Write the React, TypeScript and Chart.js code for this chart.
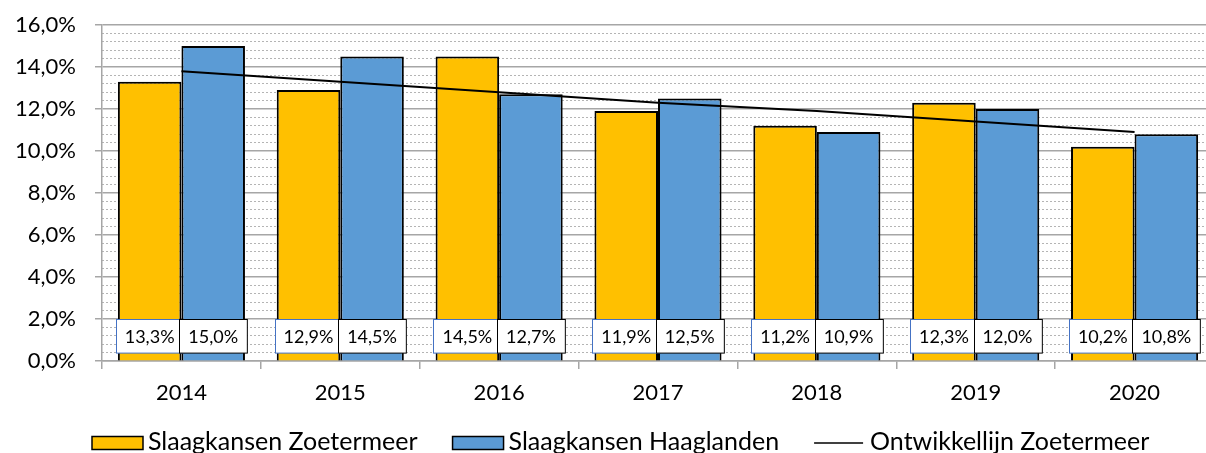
import React, { useEffect, useRef } from "react";
import { Chart, registerables } from "chart.js";

Chart.register(...registerables);

const categories = ["2014", "2015", "2016", "2017", "2018", "2019", "2020"];
const zoetermeer = [13.3, 12.9, 14.5, 11.9, 11.2, 12.3, 10.2];
const haaglanden = [15.0, 14.5, 12.7, 12.5, 10.9, 12.0, 10.8];
const trendZoetermeer = [13.8, 13.3, 12.8, 12.3, 11.9, 11.4, 10.9];
const seriesLabels = ["Slaagkansen Zoetermeer", "Slaagkansen Haaglanden", "Ontwikkellijn Zoetermeer"];

const FONT = "Lato";
const fmt = (v: number) => v.toFixed(1).replace(".", ",") + "%";

const labelBoxPlugin = {
  id: "labelBoxes",
  afterDatasetsDraw(chart: any) {
    const ctx = chart.ctx;
    const y = chart.scales.y;
    const top = y.getPixelForValue(2);
    const bottom = y.getPixelForValue(0.4);
    const borders = ["#4472C4", "#000000"];
    ctx.save();
    ctx.font = `18px ${FONT}`;
    ctx.textAlign = "center";
    ctx.textBaseline = "middle";
    const cats = chart.data.labels.length;
    for (let i = 0; i < cats; i++) {
      [0, 1].forEach((di) => {
        const meta = chart.getDatasetMeta(di);
        const el = meta.data[i];
        const v = chart.data.datasets[di].data[i];
        const text = fmt(v);
        const w = ctx.measureText(text).width + 18;
        const x0 = Math.round(el.x - w / 2) + 0.5;
        ctx.fillStyle = "#ffffff";
        ctx.fillRect(x0, Math.round(top) + 0.5, w, bottom - top);
        ctx.strokeStyle = borders[di];
        ctx.lineWidth = 1;
        ctx.strokeRect(x0, Math.round(top) + 0.5, w, bottom - top);
        ctx.fillStyle = "#000000";
        ctx.fillText(text, el.x, (top + bottom) / 2 + 1);
      });
    }
    ctx.restore();
  },
};

const legendPlugin = {
  id: "customLegend",
  afterDraw(chart: any) {
    const ctx = chart.ctx;
    const ds = chart.data.datasets;
    const order = [0, 1, 2];
    let x = 92;
    const yc = 443;
    ctx.save();
    ctx.font = `25px ${FONT}`;
    ctx.textBaseline = "middle";
    ctx.textAlign = "left";
    order.forEach((di) => {
      const d = ds[di];
      if (d.type === "line") {
        ctx.strokeStyle = "#000";
        ctx.lineWidth = 1.5;
        ctx.beginPath();
        ctx.moveTo(x, yc);
        ctx.lineTo(x + 49, yc);
        ctx.stroke();
      } else {
        ctx.fillStyle = d.backgroundColor;
        ctx.fillRect(x, yc - 6.5, 51, 13);
        ctx.strokeStyle = "#000";
        ctx.lineWidth = 1.5;
        ctx.strokeRect(x, yc - 6.5, 51, 13);
      }
      x += 56;
      ctx.fillStyle = "#000";
      ctx.fillText(d.label, x, yc - 1);
      x += ctx.measureText(d.label).width + 35;
    });
    ctx.restore();
  },
};

export default function App() {
  const ref = useRef<HTMLCanvasElement | null>(null);
  useEffect(() => {
    document.body.style.margin = "0";
    document.body.style.overflow = "hidden";
    let chart: any = null;
    let cancelled = false;
    const make = () => {
      if (cancelled || !ref.current) return;
      chart = new Chart(ref.current, {
        type: "bar",
        data: {
          labels: categories,
          datasets: [
            {
              type: "bar",
              label: seriesLabels[0],
              data: zoetermeer,
              backgroundColor: "#FFC000",
              borderColor: "#000000",
              borderWidth: 2,
              categoryPercentage: 0.8,
              barPercentage: 1.0,
              order: 1,
            },
            {
              type: "bar",
              label: seriesLabels[1],
              data: haaglanden,
              backgroundColor: "#5B9BD5",
              borderColor: "#000000",
              borderWidth: 2,
              categoryPercentage: 0.8,
              barPercentage: 1.0,
              order: 1,
            },
            {
              type: "line",
              label: seriesLabels[2],
              data: trendZoetermeer,
              borderColor: "#000000",
              borderWidth: 2,
              pointRadius: 0,
              fill: false,
              order: 0,
            } as any,
          ],
        },
        options: {
          responsive: false,
          animation: false,
          devicePixelRatio: 1,
          layout: { padding: { top: 25, right: 2, bottom: 40, left: 0 } },
          plugins: { legend: { display: false }, tooltip: { enabled: false } },
          scales: {
            x: {
              grid: {
                display: true,
                drawOnChartArea: false,
                drawTicks: true,
                tickLength: 8,
                color: "#a6a6a6",
                lineWidth: 1.5,
                offset: true,
              },
              border: { color: "#a6a6a6", width: 1.5 },
              ticks: { font: { family: FONT, size: 22 }, color: "#000", padding: 11, maxRotation: 0 },
              afterFit: (s: any) => {
                s.height = 52;
                s.paddingLeft = 0;
                s.paddingRight = 0;
              },
            },
            y2: {
              position: "left",
              min: 0,
              max: 16,
              ticks: { display: false, stepSize: 0.4, maxTicksLimit: 100 },
              grid: {
                drawTicks: false,
                lineWidth: 1,
                color: (c: any) => {
                  const v = c.tick ? c.tick.value : 0;
                  return Math.abs(v / 2 - Math.round(v / 2)) < 1e-6 ? "rgba(0,0,0,0)" : "#b4b4b4";
                },
              },
              border: { display: false, dash: [2, 2] },
              afterFit: (s: any) => {
                s.width = 0;
                s.paddingTop = 0;
                s.paddingBottom = 0;
              },
            },
            y: {
              position: "left",
              min: 0,
              max: 16,
              ticks: {
                stepSize: 2,
                font: { family: FONT, size: 22 },
                color: "#000",
                padding: 19,
                callback: (v: any) => fmt(Number(v)),
              },
              grid: { color: "#a6a6a6", lineWidth: 1.5, tickLength: 7, drawTicks: true },
              border: { color: "#a6a6a6", width: 1.5 },
              afterFit: (s: any) => {
                s.width = 102;
                s.paddingTop = 0;
                s.paddingBottom = 0;
              },
            },
          },
        } as any,
        plugins: [labelBoxPlugin, legendPlugin],
      });
    };
    const fonts: any = (document as any).fonts;
    if (fonts && fonts.load) {
      Promise.all([fonts.load(`22px ${FONT}`), fonts.load(`18px ${FONT}`)])
        .catch(() => null)
        .then(make);
    } else {
      make();
    }
    return () => {
      cancelled = true;
      if (chart) chart.destroy();
    };
  }, []);
  return (
    <div style={{ position: "fixed", left: 0, top: 0, width: 1206, height: 453, overflow: "hidden", background: "#fff" }}>
      <canvas ref={ref} width={1216} height={453} style={{ display: "block", width: 1216, height: 453 }} />
    </div>
  );
}
